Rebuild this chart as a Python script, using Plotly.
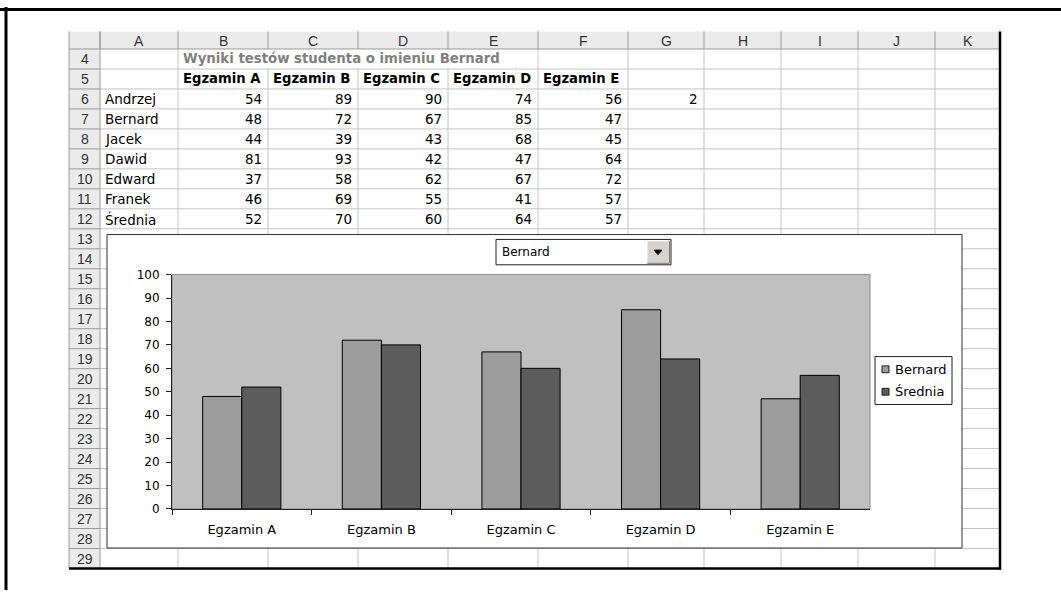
import plotly.graph_objects as go

# ---- data ---------------------------------------------------------------
exams = ["Egzamin A", "Egzamin B", "Egzamin C", "Egzamin D", "Egzamin E"]
students = ["Andrzej", "Bernard", "Jacek", "Dawid", "Edward", "Franek", "Średnia"]
andrzej = [54, 89, 90, 74, 56]
bernard = [48, 72, 67, 85, 47]
jacek = [44, 39, 43, 68, 45]
dawid = [81, 93, 42, 47, 64]
edward = [37, 58, 62, 67, 72]
franek = [46, 69, 55, 41, 57]
srednia = [52, 70, 60, 64, 57]
selected_index = 2
selected_name = "Bernard"
sheet_title = "Wyniki testów studenta o imieniu Bernard"
col_letters = ["A", "B", "C", "D", "E", "F", "G", "H", "I", "J", "K"]
row_numbers = list(range(4, 30))
y_ticks = list(range(0, 101, 10))
series_names = ["Bernard", "Średnia"]
series_colors = ["#9c9c9c", "#5c5c5c"]

score_rows = [andrzej, bernard, jacek, dawid, edward, franek, srednia]

# ---- page geometry (pixels) ---------------------------------------------
W, H = 1061, 597
COL_EDGES = [100, 178, 268, 358, 448, 538, 628, 704, 781, 858, 935, 1000]
ROWHDR_L = 69
HDR_TOP, HDR_BOT = 25, 43
ROW_H = 20.46
SHEET_BOT = HDR_BOT + ROW_H * len(row_numbers)
CHART = (107, 233, 962, 554)      # x0, y0, x1, y1 of the embedded chart
PLOT = (172, 274, 870, 514)       # plot area inside the chart
LEGEND_BOX = (875, 358, 952, 407)
LEGEND_STEP = 23
COMBO = (496, 238, 671, 264)

SANS = "DejaVu Sans"
HDR_FONT = "Liberation Sans"
GRID = "#c4c4c4"
HDR_LINE = "#9a9a9a"
HDR_BG = "#ebebeb"


def X(p):
    return p / W


def Y(p):
    return 1 - p / H


shapes = []
annotations = []


def line(x0, y0, x1, y1, color, width=1, layer="below"):
    shapes.append(dict(type="line", xref="paper", yref="paper",
                       x0=X(x0), y0=Y(y0), x1=X(x1), y1=Y(y1),
                       line=dict(color=color, width=width), layer=layer))


def rect(x0, y0, x1, y1, fill, color=None, width=0, layer="below"):
    shapes.append(dict(type="rect", xref="paper", yref="paper",
                       x0=X(x0), y0=Y(y1), x1=X(x1), y1=Y(y0),
                       fillcolor=fill,
                       line=dict(color=color or fill, width=width),
                       layer=layer))


def text(x, y, s, anchor="left", size=13.5, family=SANS, color="black"):
    annotations.append(dict(xref="paper", yref="paper", x=X(x), y=Y(y),
                            text=s, showarrow=False, xanchor=anchor,
                            yanchor="middle",
                            font=dict(family=family, size=size, color=color)))


def row_top(i):
    return HDR_BOT + ROW_H * i


# ---- spreadsheet headers --------------------------------------------------
rect(ROWHDR_L, HDR_TOP, COL_EDGES[-1], HDR_BOT, HDR_BG)
rect(ROWHDR_L, HDR_BOT, COL_EDGES[0], SHEET_BOT, HDR_BG)

# cell gridlines
for i in range(1, len(row_numbers)):
    yy = row_top(i)
    line(COL_EDGES[0], yy, COL_EDGES[-1], yy, GRID)
title_row_span = (COL_EDGES[1], COL_EDGES[5])   # title text overflows B..E
for xe in COL_EDGES[1:-1]:
    if title_row_span[0] < xe < title_row_span[1]:
        line(xe, row_top(1), xe, SHEET_BOT, GRID)
    else:
        line(xe, HDR_BOT, xe, SHEET_BOT, GRID)

# header separators
for xe in COL_EDGES[:-1]:
    line(xe, HDR_TOP, xe, HDR_BOT, HDR_LINE)
line(COL_EDGES[0], HDR_TOP, COL_EDGES[0], SHEET_BOT, HDR_LINE)
line(ROWHDR_L, HDR_BOT, COL_EDGES[-1], HDR_BOT, HDR_LINE)
for i in range(1, len(row_numbers)):
    line(ROWHDR_L, row_top(i), COL_EDGES[0], row_top(i), HDR_LINE)
line(ROWHDR_L, HDR_TOP, ROWHDR_L, SHEET_BOT, HDR_LINE)

# sheet border and page frame
line(COL_EDGES[-1], HDR_TOP, COL_EDGES[-1], SHEET_BOT + 1, "black", 2.5)
line(ROWHDR_L, SHEET_BOT, COL_EDGES[-1] + 1, SHEET_BOT, "black", 2.5)
line(0, 2.5, W, 2.5, "black", 3)
line(6, 0, 6, H, "black", 3)

# header labels
for k, letter in enumerate(col_letters):
    text((COL_EDGES[k] + COL_EDGES[k + 1]) / 2, (HDR_TOP + HDR_BOT) / 2 + 0.5,
         letter, "center", 14, HDR_FONT, "#333333")
for i, n in enumerate(row_numbers):
    text((ROWHDR_L + COL_EDGES[0]) / 2, row_top(i) + ROW_H / 2 + 0.5,
         str(n), "center", 14, HDR_FONT, "#333333")

# table contents
text(COL_EDGES[1] + 3, row_top(0) + ROW_H / 2, "<b>" + sheet_title + "</b>",
     "left", 13.3, SANS, "#808080")
for k, exam in enumerate(exams):
    text(COL_EDGES[k + 1] + 3, row_top(1) + ROW_H / 2, "<b>" + exam + "</b>",
         "left", 13.2, SANS)
for r, (name, scores) in enumerate(zip(students, score_rows)):
    yc = row_top(r + 2) + ROW_H / 2 + 0.5
    text(COL_EDGES[0] + 3, yc, name, "left", 13.5)
    for k, v in enumerate(scores):
        text(COL_EDGES[k + 2] - 4, yc, str(v), "right", 13.5)
text(COL_EDGES[7] - 4, row_top(2) + ROW_H / 2 + 0.5, str(selected_index),
     "right", 13.5)

# ---- embedded chart frame -------------------------------------------------
rect(*CHART, "white", "#303030", 1)
rect(*PLOT, "#c0c0c0", "#8c8c8c", 1)

# legend box
lx0, ly0, lx1, ly1 = LEGEND_BOX
rect(lx0, ly0, lx1, ly1, "white", "#202020", 1, layer="above")
for i, (nm, col) in enumerate(zip(series_names, series_colors)):
    yc = ly0 + 13 + i * LEGEND_STEP
    rect(lx0 + 7, yc - 3.5, lx0 + 14, yc + 3.5, col, "#202020", 1,
         layer="above")
    text(lx0 + 18, yc, nm, "left", 13)

# drop-down control
cx0, cy0, cx1, cy1 = COMBO
rect(cx0, cy0, cx1, cy1, "white", "#202020", 1, layer="above")
rect(cx1 - 24, cy0 + 1.5, cx1 - 1.5, cy1 - 1.5, "#d6d3ce", "#d6d3ce", 0,
     layer="above")
line(cx1 - 24, cy1 - 1.5, cx1 - 1.5, cy1 - 1.5, "#808080", 1, "above")
line(cx1 - 1.5, cy0 + 1.5, cx1 - 1.5, cy1 - 1.5, "#808080", 1, "above")
line(cx1 - 24, cy0 + 1.5, cx1 - 1.5, cy0 + 1.5, "white", 1, "above")
line(cx1 - 24, cy0 + 1.5, cx1 - 24, cy1 - 1.5, "white", 1, "above")
tx, ty = cx1 - 13, (cy0 + cy1) / 2
shapes.append(dict(type="path", xref="paper", yref="paper", layer="above",
                   path=f"M {X(tx - 4)},{Y(ty - 2)} L {X(tx + 4)},{Y(ty - 2)} "
                        f"L {X(tx)},{Y(ty + 2.5)} Z",
                   fillcolor="black", line=dict(color="black", width=1)))
text(cx0 + 4, (cy0 + cy1) / 2, selected_name, "left", 12)

# ---- bar chart --------------------------------------------------------------
fig = go.Figure()
for nm, vals, col in zip(series_names, [bernard, srednia], series_colors):
    fig.add_trace(go.Bar(x=exams, y=vals, name=nm, showlegend=False,
                         marker=dict(color=col,
                                     line=dict(color="black", width=1))))

fig.update_layout(
    width=W, height=H,
    margin=dict(l=0, r=0, t=0, b=0),
    paper_bgcolor="white",
    plot_bgcolor="rgba(0,0,0,0)",
    barmode="group", bargap=0.44, bargroupgap=0,
    shapes=shapes,
    annotations=annotations,
    showlegend=False,
    xaxis=dict(domain=[X(PLOT[0]), X(PLOT[2])], type="category",
               tickson="boundaries", ticks="outside", ticklen=5,
               tickcolor="#202020", showline=True, linecolor="#202020",
               linewidth=1, showgrid=False, ticklabelstandoff=8,
               tickfont=dict(family=SANS, size=13, color="black")),
    yaxis=dict(domain=[Y(PLOT[3]), Y(PLOT[1])], range=[0, 100],
               tickvals=y_ticks, ticks="outside", ticklen=5,
               tickcolor="#202020", showline=True, linecolor="#202020",
               linewidth=1, showgrid=False, zeroline=False,
               ticklabelstandoff=4,
               tickfont=dict(family=SANS, size=12, color="black")),
)

fig.write_html("out.html")
